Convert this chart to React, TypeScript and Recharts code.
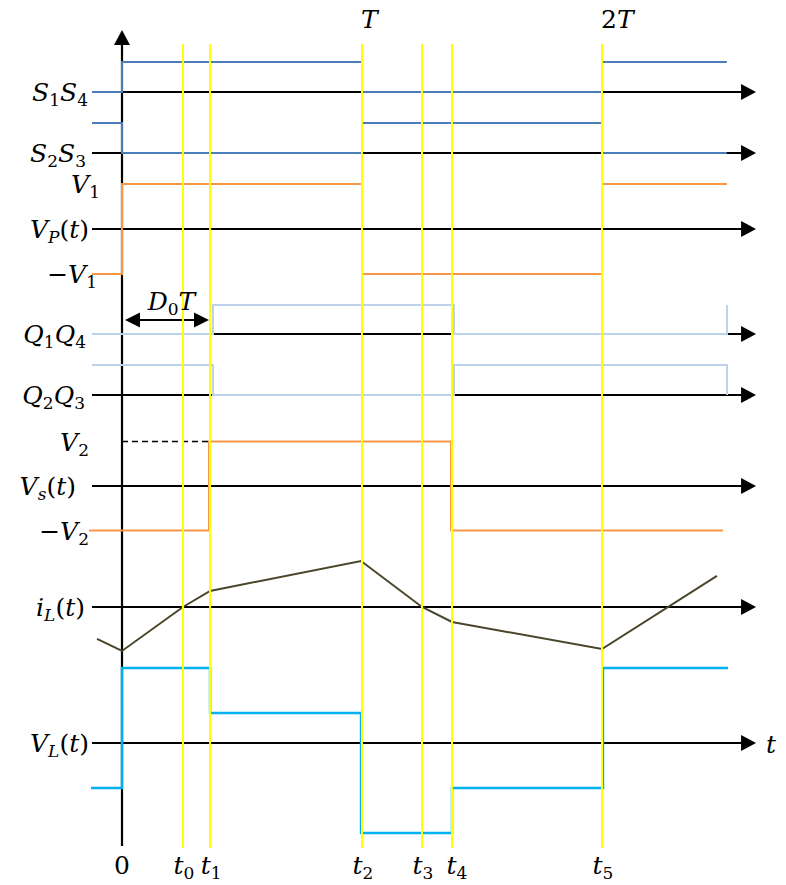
import React from 'react';
import { ComposedChart, Line, XAxis, YAxis, ReferenceLine, ReferenceDot } from 'recharts';

// ---------- data (time in units of the period T) ----------
const eventNames = ['t_0', 't_1', 't_2', 't_3', 't_4', 't_5'];
const eventTimes = [0.254, 0.367, 1.0, 1.25, 1.375, 2.0];
const periodNames = ['T', '2T'];
const periodTimes = [1.0, 2.0];

const switchTimes = [-0.125, 0, 0, 1, 1, 2, 2, 2.52];
const s14Levels = [0, 0, 1, 1, 0, 0, 1, 1];
const s23Levels = [1, 1, 0, 0, 1, 1, 0, 0];
const vpLevels = [-1, -1, 1, 1, -1, -1, 1, 1];

const qTimes = [-0.125, 0.379, 0.379, 1.383, 1.383, 2.521, 2.521];
const q14Levels = [0, 0, 1, 1, 0, 0, 1];
const q23Levels = [1, 1, 0, 0, 1, 1, 0];

const vsTimes = [-0.1375, 0.3625, 0.3625, 1.371, 1.371, 2.504];
const vsLevels = [-1, -1, 1, 1, -1, -1];
const d0Time = 0.3625;

const iLTimes = [-0.104, 0, 0.254, 0.367, 0.996, 1.25, 1.375, 2.0, 2.479];
const iLValues = [-2.13, -2.93, 0, 1.07, 3.07, 0, -1.0, -2.8, 2.07];

const vLTimes = [-0.129, 0, 0, 0.367, 0.367, 0.996, 0.996, 1.375, 1.375, 2.004, 2.004, 2.525];
const vLValues = [-3, -3, 5, 5, 2, 2, -6, -6, -3, -3, 5, 5];

// ---------- layout ----------
const W = 786;
const H = 885;
const X_DOMAIN: [number, number] = [-0.50833, 2.76667];
const Y_DOMAIN: [number, number] = [0, 885];
const AXIS_START = -0.125;
const AXIS_END = 2.642;
const VAXIS_BOTTOM = 846;
const VAXIS_TOP = 30;
const YELLOW_TOP = 44;
const YELLOW_BOTTOM = 848;

type Lane = { base: number; amp: number };
const lanes: Record<string, Lane> = {
  s14: { base: 92, amp: 30 },
  s23: { base: 153, amp: 30 },
  vp: { base: 229, amp: 45 },
  q14: { base: 334, amp: 29 },
  q23: { base: 395, amp: 30 },
  vs: { base: 486, amp: 44.5 },
  iL: { base: 607, amp: 15 },
  vL: { base: 743, amp: 15 },
};

const build = (times: number[], vals: number[], lane: Lane) =>
  times.map((t, i) => ({ t, y: lane.base - lane.amp * vals[i] }));

const FONT = "'DejaVu Serif', serif";

function MathText({ x, y, src, anchor = 'end', size = 25 }: any) {
  const parts: { c: string; sub: boolean }[] = [];
  for (let i = 0; i < src.length; i++) {
    let c = src[i];
    let sub = false;
    if (c === '_') {
      sub = true;
      c = src[++i];
    }
    parts.push({ c, sub });
  }
  let cur = false;
  const shift = Math.round(size * 0.2);
  return (
    <text x={x} y={y} textAnchor={anchor} fontFamily={FONT} fontSize={size} fill="#000">
      {parts.map((p, i) => {
        const italic = /[A-Za-z]/.test(p.c);
        let dy = 0;
        if (p.sub && !cur) dy = shift;
        else if (!p.sub && cur) dy = -shift;
        cur = p.sub;
        return (
          <tspan key={i} dy={dy || undefined} fontSize={p.sub ? size * 0.68 : size} fontStyle={italic ? 'italic' : 'normal'}>
            {p.c}
          </tspan>
        );
      })}
    </text>
  );
}

const arrowShape = (both: boolean, L = 15, Wd = 8, sw = 2.2) => (p: any) => {
  const { x1, y1, x2, y2 } = p;
  const dx = x2 - x1;
  const dy = y2 - y1;
  const len = Math.hypot(dx, dy) || 1;
  const ux = dx / len;
  const uy = dy / len;
  const head = (tx: number, ty: number, vx: number, vy: number) => {
    const bx = tx - vx * L;
    const by = ty - vy * L;
    return `${tx},${ty} ${bx - vy * Wd},${by + vx * Wd} ${bx + vy * Wd},${by - vx * Wd}`;
  };
  const sx = both ? x1 + ux * (L - 2) : x1;
  const sy = both ? y1 + uy * (L - 2) : y1;
  return (
    <g>
      <line x1={sx} y1={sy} x2={x2 - ux * (L - 2)} y2={y2 - uy * (L - 2)} stroke="#000" strokeWidth={sw} />
      <polygon points={head(x2, y2, ux, uy)} fill="#000" />
      {both && <polygon points={head(x1, y1, -ux, -uy)} fill="#000" />}
    </g>
  );
};

const textAt = (src: string, dx: number, dy: number, anchor = 'end', size = 25) => (p: any) => (
  <MathText x={p.cx + dx} y={p.cy + dy} src={src} anchor={anchor} size={size} />
);

// row labels: [text, lane key, level, right-edge offset from axis start (px)]
const rowLabels: [string, string, number, number][] = [
  ['S_1S_4', 's14', 0, -4],
  ['S_2S_3', 's23', 0, -6],
  ['V_1', 'vp', 1, 8],
  ['V_P(t)', 'vp', 0, -3],
  ['−V_1', 'vp', -1, 5],
  ['Q_1Q_4', 'q14', 0, -6],
  ['Q_2Q_3', 'q23', 0, -7],
  ['V_2', 'vs', 1, -3],
  ['V_s(t)', 'vs', 0, -16],
  ['−V_2', 'vs', -1, -3],
  ['i_L(t)', 'iL', 0, -7],
  ['V_L(t)', 'vL', 0, -3],
];

export default function App() {
  const axisRows = Object.keys(lanes).map((k) => lanes[k].base);
  return (
    <div style={{ position: 'absolute', left: 0, top: 0, width: W, height: H, background: '#fff' }}>
      <ComposedChart width={W} height={H} margin={{ top: 0, right: 0, bottom: 0, left: 0 }}>
        <XAxis type="number" dataKey="t" domain={X_DOMAIN} hide allowDataOverflow />
        <YAxis type="number" domain={Y_DOMAIN} reversed hide width={0} allowDataOverflow />

        {axisRows.map((b, i) => (
          <ReferenceLine
            key={'ax' + i}
            segment={[{ x: AXIS_START, y: b }, { x: AXIS_END, y: b }]}
            shape={arrowShape(false)}
          />
        ))}
        <ReferenceLine
          segment={[{ x: 0, y: VAXIS_BOTTOM }, { x: 0, y: VAXIS_TOP }]}
          shape={arrowShape(false)}
        />

        <Line data={build(switchTimes, s14Levels, lanes.s14)} dataKey="y" stroke="#4a7ebb" strokeWidth={2} dot={false} activeDot={false} isAnimationActive={false} />
        <Line data={build(switchTimes, s23Levels, lanes.s23)} dataKey="y" stroke="#4a7ebb" strokeWidth={2} dot={false} activeDot={false} isAnimationActive={false} />
        <Line data={build(switchTimes, vpLevels, lanes.vp)} dataKey="y" stroke="#f79646" strokeWidth={2} dot={false} activeDot={false} isAnimationActive={false} />
        <Line data={build(qTimes, q14Levels, lanes.q14)} dataKey="y" stroke="#bcd2ec" strokeWidth={2} dot={false} activeDot={false} isAnimationActive={false} />
        <Line data={build(qTimes, q23Levels, lanes.q23)} dataKey="y" stroke="#bcd2ec" strokeWidth={2} dot={false} activeDot={false} isAnimationActive={false} />
        <Line data={build(vsTimes, vsLevels, lanes.vs)} dataKey="y" stroke="#f79646" strokeWidth={2} dot={false} activeDot={false} isAnimationActive={false} />
        <Line data={build(iLTimes, iLValues, lanes.iL)} dataKey="y" stroke="#4a452a" strokeWidth={2} dot={false} activeDot={false} isAnimationActive={false} />
        <Line data={build(vLTimes, vLValues, lanes.vL)} dataKey="y" stroke="#00b0f0" strokeWidth={2.5} dot={false} activeDot={false} isAnimationActive={false} />

        <ReferenceLine
          segment={[{ x: 0, y: lanes.vs.base - lanes.vs.amp }, { x: d0Time, y: lanes.vs.base - lanes.vs.amp }]}
          stroke="#000"
          strokeWidth={1.5}
          strokeDasharray="6 4"
        />
        <ReferenceLine
          segment={[{ x: 0.0125, y: 320 }, { x: d0Time, y: 320 }]}
          shape={arrowShape(true, 15, 7.5, 2.2)}
        />

        {eventTimes.map((t, i) => (
          <ReferenceLine
            key={'ev' + i}
            segment={[{ x: t, y: YELLOW_TOP }, { x: t, y: YELLOW_BOTTOM }]}
            stroke="#ffff00"
            strokeWidth={2}
          />
        ))}

        {rowLabels.map(([src, lane, lvl, dx], i) => (
          <ReferenceDot
            key={'rl' + i}
            x={AXIS_START}
            y={lanes[lane].base - lanes[lane].amp * lvl}
            r={0}
            shape={textAt(src, dx, 9)}
          />
        ))}

        {eventTimes.map((t, i) => (
          <ReferenceDot key={'el' + i} x={t} y={866} r={0} shape={textAt(eventNames[i], i === 4 ? 5 : 1, 8, 'middle')} />
        ))}
        <ReferenceDot x={0} y={866} r={0} shape={textAt('0', 0, 8, 'middle')} />
        {periodTimes.map((t, i) => (
          <ReferenceDot key={'pl' + i} x={t} y={19} r={0} shape={textAt(periodNames[i], -1, 9, 'start')} />
        ))}
        <ReferenceDot x={AXIS_END} y={745} r={0} shape={textAt('t', 10, 8, 'start')} />
        <ReferenceDot x={d0Time / 2} y={302} r={0} shape={textAt('D_0T', 6, 8, 'middle')} />
      </ComposedChart>
    </div>
  );
}
